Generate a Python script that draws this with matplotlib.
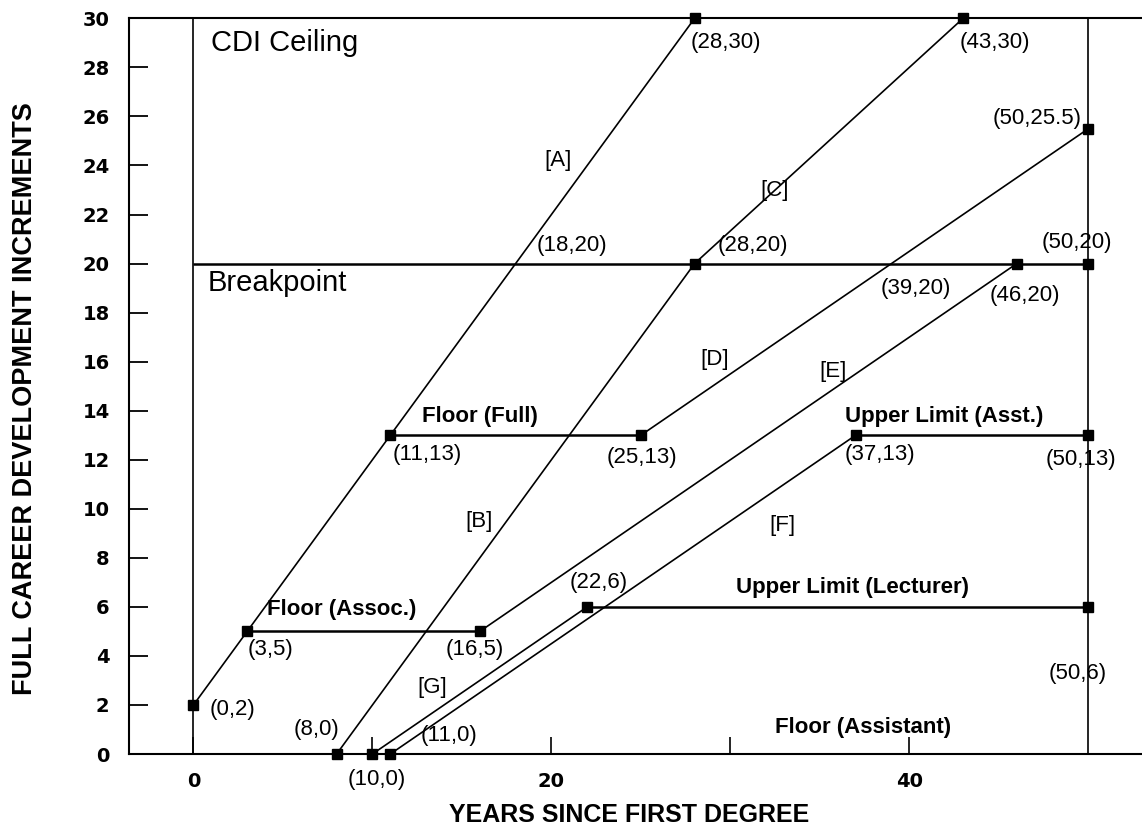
import matplotlib
matplotlib.use("Agg")
import matplotlib.pyplot as plt

# ---- data ----
path_A_x = [0, 3, 11, 28]
path_A_y = [2, 5, 13, 30]
path_BC_x = [8, 28, 43]
path_BC_y = [0, 20, 30]
floor_assoc_x = [3, 16]
floor_assoc_y = [5, 5]
path_E_x = [16, 46]
path_E_y = [5, 20]
floor_full_x = [11, 25]
floor_full_y = [13, 13]
path_D_x = [25, 50]
path_D_y = [13, 25.5]
path_G_x = [10, 22]
path_G_y = [0, 6]
path_F_x = [11, 37]
path_F_y = [0, 13]
upper_lect_x = [22, 50]
upper_lect_y = [6, 6]
upper_asst_x = [37, 50]
upper_asst_y = [13, 13]
breakpoint_x = [0, 50]
breakpoint_y = [20, 20]
left_x = [0, 0]
right_x = [50, 50]
vert_y = [0, 30]

marker_x = [0, 3, 11, 28, 43, 50, 28, 46, 50, 25, 37, 50, 16, 22, 50, 8, 10, 11]
marker_y = [2, 5, 13, 30, 30, 25.5, 20, 20, 20, 13, 13, 13, 5, 6, 6, 0, 0, 0]

y_ticks = list(range(0, 31, 2))
x_major = [0, 20, 40]
x_minor = [10, 20, 30, 40]

coord_labels = [
    ("(28,30)", 27.8, 29.0, "left"),
    ("(43,30)", 42.8, 29.0, "left"),
    ("(50,25.5)", 49.6, 25.9, "right"),
    ("(18,20)", 19.2, 20.75, "left"),
    ("(28,20)", 29.3, 20.75, "left"),
    ("(50,20)", 47.4, 20.85, "left"),
    ("(39,20)", 38.4, 19.0, "left"),
    ("(46,20)", 44.5, 18.7, "left"),
    ("(11,13)", 11.1, 12.2, "left"),
    ("(25,13)", 23.1, 12.1, "left"),
    ("(37,13)", 36.4, 12.2, "left"),
    ("(50,13)", 47.6, 12.0, "left"),
    ("(22,6)", 21.0, 7.0, "left"),
    ("(3,5)", 3.0, 4.25, "left"),
    ("(16,5)", 14.1, 4.25, "left"),
    ("(50,6)", 47.8, 3.3, "left"),
    ("(0,2)", 0.9, 1.8, "left"),
    ("(8,0)", 5.6, 1.0, "left"),
    ("(11,0)", 12.7, 0.75, "left"),
    ("(10,0)", 8.6, -1.05, "left"),
]
path_labels = [
    ("[A]", 19.6, 24.2),
    ("[C]", 31.7, 23.0),
    ("[D]", 28.3, 16.1),
    ("[E]", 35.0, 15.6),
    ("[B]", 15.2, 9.5),
    ("[F]", 32.2, 9.3),
    ("[G]", 12.5, 2.7),
]
region_labels = [
    ("Floor (Full)", 12.75, 13.75),
    ("Upper Limit (Asst.)", 36.4, 13.75),
    ("Upper Limit (Lecturer)", 30.3, 6.8),
    ("Floor (Assoc.)", 4.1, 5.9),
    ("Floor (Assistant)", 32.5, 1.1),
]
big_labels = [
    ("CDI Ceiling", 1.0, 29.0),
    ("Breakpoint", 0.8, 19.2),
]

fig = plt.figure(figsize=(11.42, 8.35), dpi=100)
ax = fig.add_axes([0.113, 0.097, 0.887, 0.881])
ax.set_xlim(-3.6, 53.0)
ax.set_ylim(0, 30)

lw = 1.2
hw = 1.8
for xs, ys, w in [
    (path_A_x, path_A_y, lw), (path_BC_x, path_BC_y, lw),
    (floor_assoc_x, floor_assoc_y, hw), (path_E_x, path_E_y, lw),
    (floor_full_x, floor_full_y, hw), (path_D_x, path_D_y, lw),
    (path_G_x, path_G_y, lw), (path_F_x, path_F_y, lw),
    (upper_lect_x, upper_lect_y, hw), (upper_asst_x, upper_asst_y, hw),
    (breakpoint_x, breakpoint_y, hw), (left_x, vert_y, lw), (right_x, vert_y, lw),
]:
    ax.plot(xs, ys, color="black", lw=w, solid_capstyle="butt", clip_on=False)

ax.plot(marker_x, marker_y, ls="none", marker="s", ms=7, color="black", clip_on=False, zorder=5)

font = ["Liberation Sans", "DejaVu Sans"]
for t, x, y, ha in coord_labels:
    ax.text(x, y, t, ha=ha, va="center", fontsize=16, family=font, clip_on=False)
for t, x, y in path_labels:
    ax.text(x, y, t, ha="left", va="center", fontsize=16, family=font)
for t, x, y in region_labels:
    ax.text(x, y, t, ha="left", va="center", fontsize=16, fontweight="bold", family=font)
for t, x, y in big_labels:
    ax.text(x, y, t, ha="left", va="center", fontsize=21, family=font)

for s in ["left", "bottom", "top"]:
    ax.spines[s].set_linewidth(1.5)
ax.spines["right"].set_visible(False)

ax.set_yticks(y_ticks)
ax.set_yticklabels([str(v) for v in y_ticks], fontsize=14, fontweight="bold", family="DejaVu Sans")
ax.tick_params(axis="y", direction="in", length=14, width=1.3, pad=14)
ax.set_xticks(x_minor, minor=True)
ax.set_xticks(x_major)
ax.set_xticklabels([str(v) for v in x_major], fontsize=14, fontweight="bold", family="DejaVu Sans")
ax.tick_params(axis="x", which="both", direction="in", length=12, width=1.2, pad=13)

fig.text(0.022, 0.523, "FULL CAREER DEVELOPMENT INCREMENTS", rotation=90, ha="center", va="center",
         fontsize=19.5, fontweight="bold", family=font)
fig.text(0.551, 0.024, "YEARS SINCE FIRST DEGREE", ha="center", va="center",
         fontsize=18, fontweight="bold", family=font)

fig.savefig("out.png", dpi=100)
